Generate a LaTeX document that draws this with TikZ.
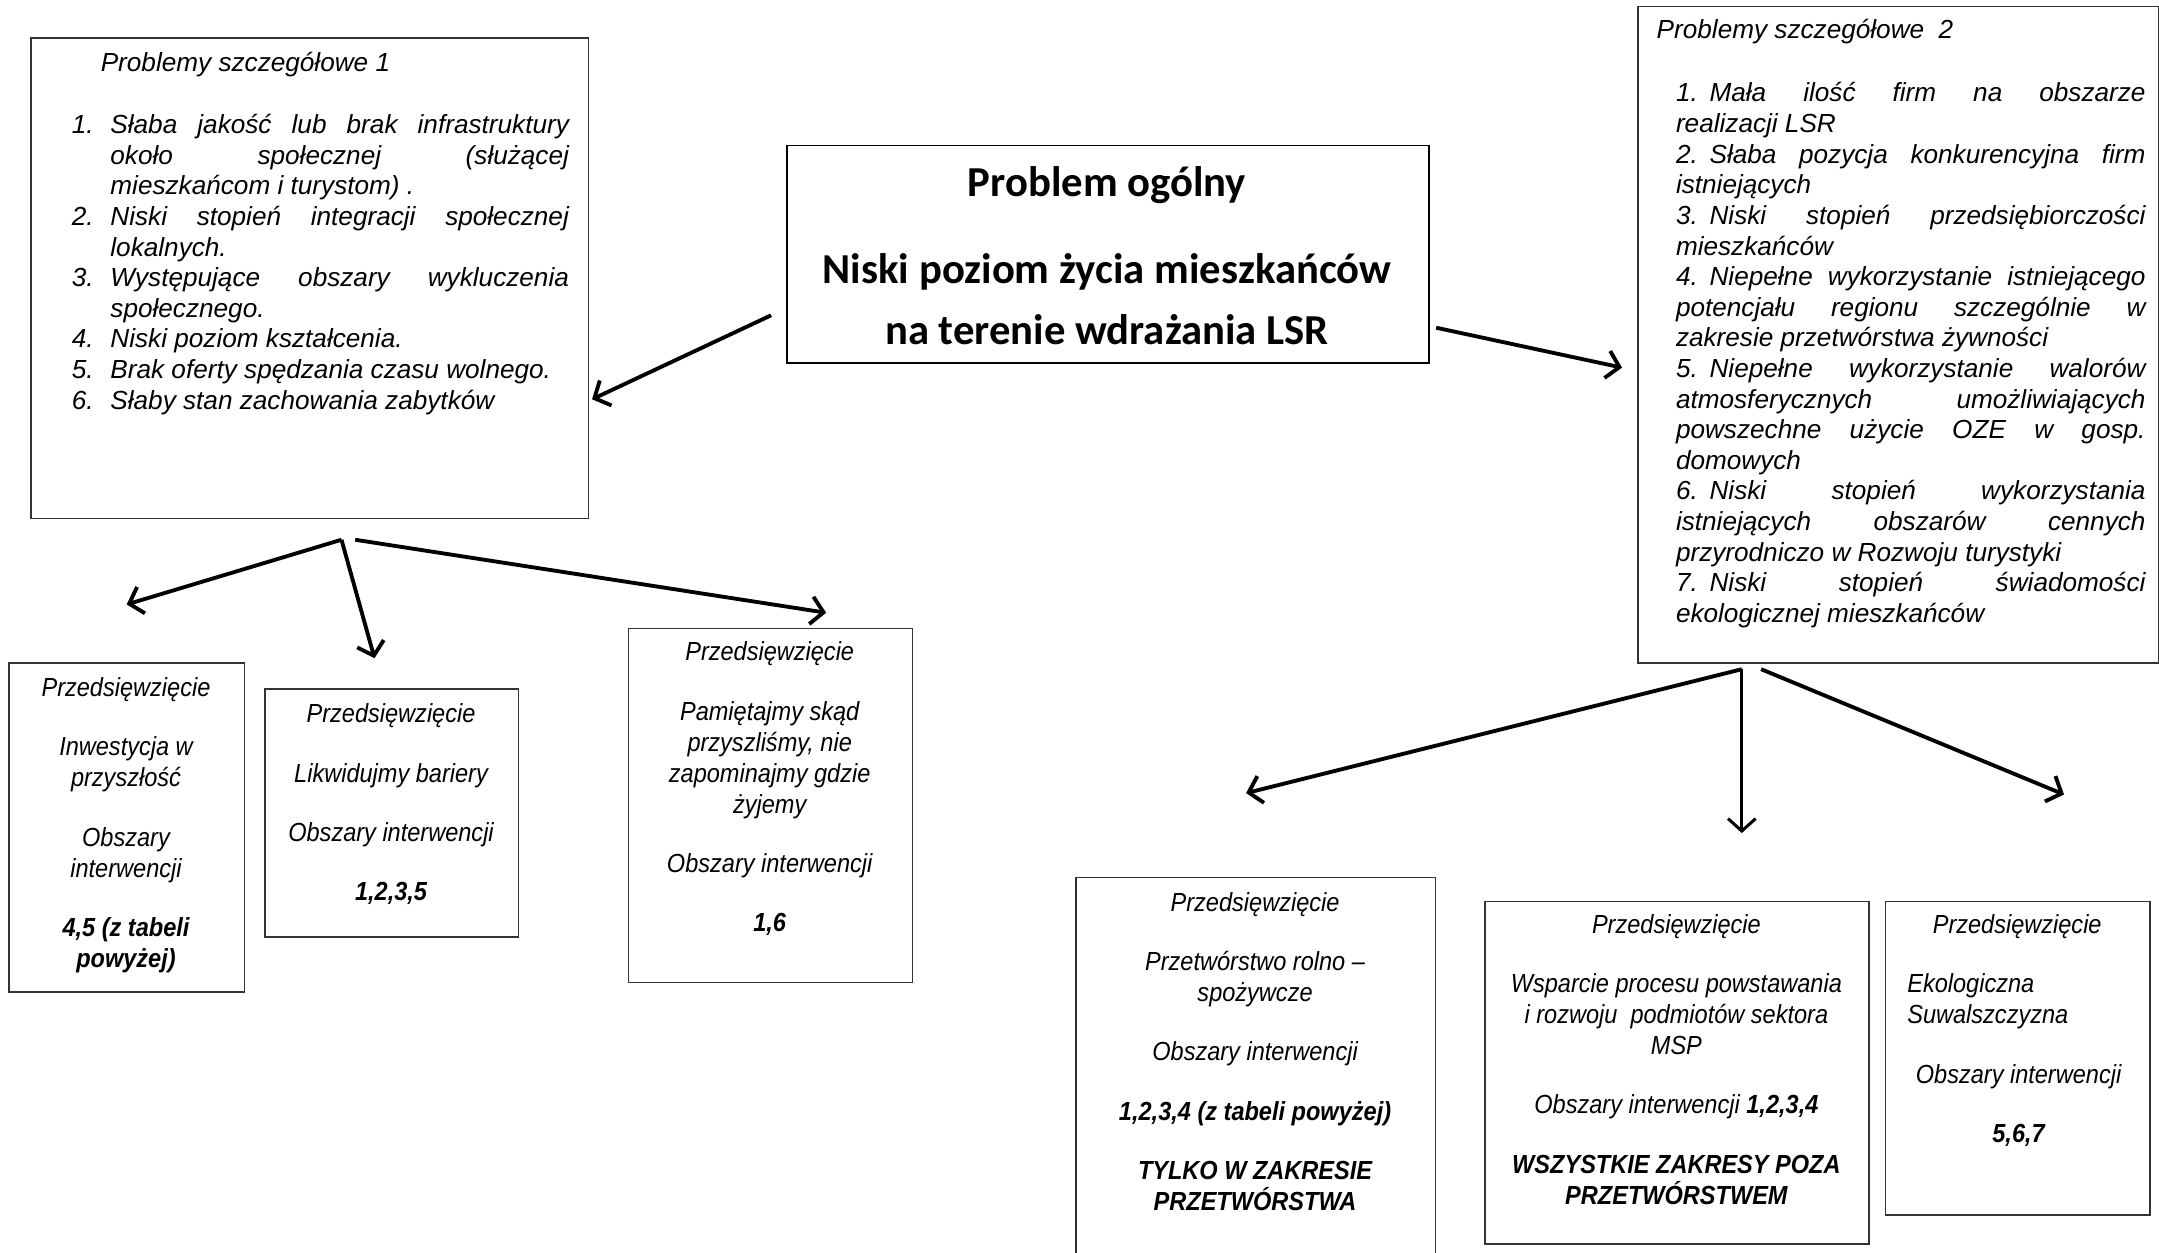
\documentclass[tikz,border=0pt]{standalone}
\usepackage{fontspec}
\setmainfont{Liberation Sans}
\newfontfamily\calfont{Carlito}
\newfontfamily\narfont{Liberation Sans}[FakeStretch=0.9]
\usetikzlibrary{arrows.meta}
\newcommand\jl[2]{{\spaceskip=0pt\xspaceskip=0pt\relax\makebox[#1][s]{#2}}}
\newcommand\nb{\hspace{0.45em}}
\newcommand\fixsp{\spaceskip=\fontdimen2\font\relax\xspaceskip=\fontdimen2\font\relax}
\begin{document}
\begin{tikzpicture}[x=1pt,y=-1pt,
  box/.style={draw=black!80, line width=1pt, inner sep=0pt, anchor=north west},
  mainbox/.style={draw=black, line width=1.3pt, inner sep=0pt, anchor=north west},
  arr/.style={line width=2.8pt, -{Straight Barb[length=9pt,width=20pt]}},
  toptxt/.style={font=\fontsize{19}{22.24}\selectfont\itshape, inner sep=0pt, anchor=base west, align=left},
  lowtxt/.style={font=\narfont\fontsize{19}{22.5}\selectfont\itshape, inner sep=0pt, anchor=base, align=center},
  caltxt/.style={font=\calfont\bfseries\fontsize{31}{36}\selectfont, inner sep=0pt, anchor=base}
]
\useasboundingbox (0,0) rectangle (1568,910);
\fill[white] (0,0) rectangle (1568,910);

% boxes
\node[mainbox, minimum width=466, minimum height=158] (gen) at (571,105) {};
\node[box, minimum width=405, minimum height=349] (ps1) at (22,27) {};
\node[box, minimum width=378, minimum height=477] (ps2) at (1189,4) {};
\node[box, minimum width=171, minimum height=239] (b1) at (6,481) {};
\node[box, minimum width=184, minimum height=180] (b2) at (192,500) {};
\node[box, minimum width=206, minimum height=257] (b3) at (456,456) {};
\node[box, minimum width=261, minimum height=290] (b4) at (781,637) {};
\node[box, minimum width=279, minimum height=249] (b5) at (1078,654) {};
\node[box, minimum width=192, minimum height=228] (b6) at (1369,654) {};

% central text
\node[caltxt] (g1) at (804,143) {Problem ogólny};
\node[caltxt] (g2) at (804,206) {Niski poziom życia mieszkańców};
\node[caltxt] (g3) at (804,250) {na terenie wdrażania LSR};

% PS1
\node[toptxt] (t1) at (73,52) {\fixsp Problemy szczegółowe 1};
\node[toptxt, text width=361pt] (l1) at (52,97) {\fixsp
\makebox[28pt][l]{1.}\jl{333pt}{Słaba jakość lub brak infrastruktury}\\
\hspace*{28pt}\jl{333pt}{około społecznej (służącej}\\
\hspace*{28pt}mieszkańcom i turystom) .\\
\makebox[28pt][l]{2.}\jl{333pt}{Niski stopień integracji społecznej}\\
\hspace*{28pt}lokalnych.\\
\makebox[28pt][l]{3.}\jl{333pt}{Występujące obszary wykluczenia}\\
\hspace*{28pt}społecznego.\\
\makebox[28pt][l]{4.}Niski poziom kształcenia.\\
\makebox[28pt][l]{5.}Brak oferty spędzania czasu wolnego.\\
\makebox[28pt][l]{6.}Słaby stan zachowania zabytków};

% PS2
\node[toptxt] (t2) at (1203,28) {\fixsp Problemy szczegółowe\ \ 2};
\node[toptxt, text width=341pt] (l2) at (1217,74) {\fixsp
\jl{341pt}{1.\nb Mała ilość firm na obszarze}\\
realizacji LSR\\
\jl{341pt}{2.\nb Słaba pozycja konkurencyjna firm}\\
istniejących\\
\jl{341pt}{3.\nb Niski stopień przedsiębiorczości}\\
mieszkańców\\
\jl{341pt}{4.\nb Niepełne wykorzystanie istniejącego}\\
\jl{341pt}{potencjału regionu szczególnie w}\\
zakresie przetwórstwa żywności\\
\jl{341pt}{5.\nb Niepełne wykorzystanie walorów}\\
\jl{341pt}{atmosferycznych umożliwiających}\\
\jl{341pt}{powszechne użycie OZE w gosp.}\\
domowych\\
\jl{341pt}{6.\nb Niski stopień wykorzystania}\\
\jl{341pt}{istniejących obszarów cennych}\\
przyrodniczo w Rozwoju turystyki\\
\jl{341pt}{7.\nb Niski stopień świadomości}\\
ekologicznej mieszkańców};

% lower left boxes
\node[lowtxt, text width=165pt] (x1) at (91.5,506) {\fixsp Przedsięwzięcie\\[20.5pt]
Inwestycja w\\przyszłość\\[20.5pt]Obszary\\interwencji\\[20.5pt]
\textbf{4,5 (z tabeli}\\\textbf{powyżej)}};
\node[lowtxt, text width=178pt] (x2) at (284,525) {\fixsp Przedsięwzięcie\\[20.5pt]
Likwidujmy bariery\\[20.5pt]Obszary interwencji\\[20.5pt]\textbf{1,2,3,5}};
\node[lowtxt, text width=200pt] (x3) at (559,480) {\fixsp Przedsięwzięcie\\[20.5pt]
Pamiętajmy skąd\\przyszliśmy, nie\\zapominajmy gdzie\\żyjemy\\[20.5pt]
Obszary interwencji\\[20.5pt]\textbf{1,6}};

% lower right boxes
\node[lowtxt, text width=255pt] (x4) at (911.5,662) {\fixsp Przedsięwzięcie\\[20.5pt]
Przetwórstwo rolno –\\spożywcze\\[20.5pt]Obszary interwencji\\[20.5pt]
\textbf{1,2,3,4 (z tabeli powyżej)}\\[20.5pt]
\textbf{TYLKO W ZAKRESIE}\\\textbf{PRZETWÓRSTWA}};
\node[lowtxt, text width=272pt] (x5) at (1217.5,678) {\fixsp Przedsięwzięcie\\[20.5pt]
Wsparcie procesu powstawania\\i rozwoju\ \ podmiotów sektora\\MSP\\[20.5pt]
Obszary interwencji \textbf{1,2,3,4}\\[20.5pt]
\textbf{WSZYSTKIE ZAKRESY POZA}\\\textbf{PRZETWÓRSTWEM}};
\node[lowtxt, text width=186pt] (x6a) at (1465,678) {\fixsp Przedsięwzięcie};
\node[lowtxt, anchor=base west, align=left, text width=170pt] (x6b) at (1385,721) {\fixsp Ekologiczna\\Suwalszczyzna};
\node[lowtxt, text width=186pt] (x6c) at (1466,787) {\fixsp Obszary interwencji\\[20.5pt]\textbf{5,6,7}};

% arrow end points
\coordinate (a1s) at (560,229); \coordinate (a1e) at (430,290);
\coordinate (a2s) at (1043,238); \coordinate (a2e) at (1178,267);
\coordinate (a3s) at (248,392); \coordinate (a3e) at (92,439);
\coordinate (a4e) at (272,478);
\coordinate (a5s) at (258,392); \coordinate (a5e) at (600,445);
\coordinate (a6s) at (1265,486); \coordinate (a6e) at (905,576);
\coordinate (a7e) at (1265,605);
\coordinate (a8s) at (1279,486); \coordinate (a8e) at (1499,577);

\draw[arr] (a1s) -- (a1e);
\draw[arr] (a2s) -- (a2e);
\draw[arr] (a3s) -- (a3e);
\draw[arr] (a3s) -- (a4e);
\draw[arr] (a5s) -- (a5e);
\draw[arr] (a6s) -- (a6e);
\draw[arr, line width=2.2pt] (a6s) -- (a7e);
\draw[arr] (a8s) -- (a8e);
\end{tikzpicture}
\end{document}
